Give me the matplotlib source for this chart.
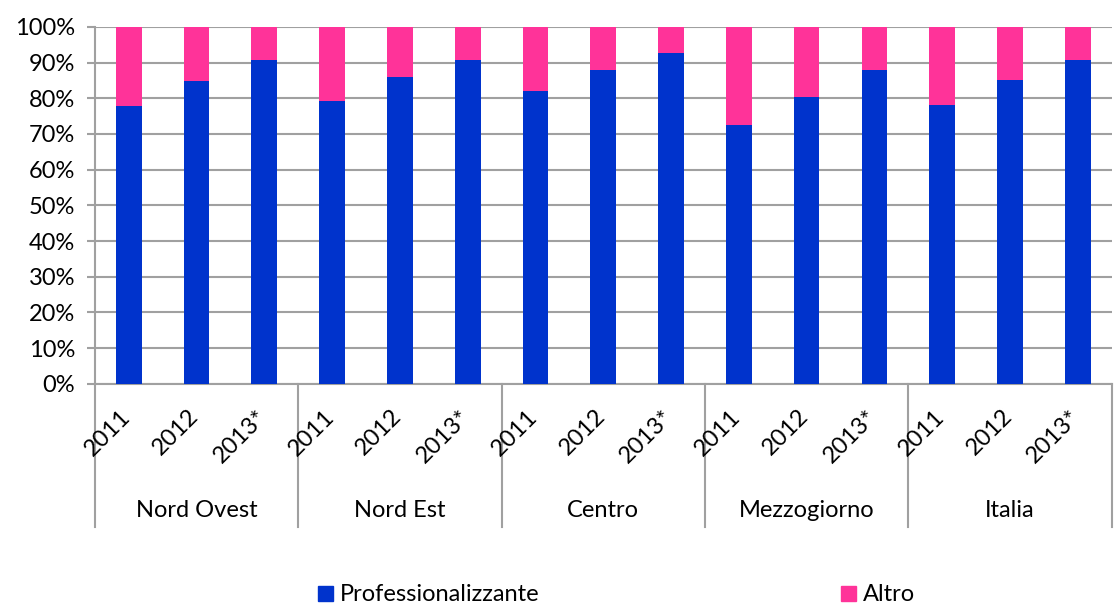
import numpy as np
import matplotlib.pyplot as plt
from matplotlib.patches import Patch

plt.rcParams['font.family'] = ['Lato', 'DejaVu Sans']

# dati (quota % per area e anno)
aree = ["Nord Ovest", "Nord Est", "Centro", "Mezzogiorno", "Italia"]
anni = ["2011", "2012", "2013*"]
professionalizzante = [77.7, 84.9, 90.7,   # Nord Ovest
                       79.1, 86.0, 90.7,   # Nord Est
                       82.1, 87.9, 92.6,   # Centro
                       72.6, 80.4, 87.9,   # Mezzogiorno
                       78.2, 85.1, 90.7]   # Italia
altro = [100 - v for v in professionalizzante]

blu = '#0033CC'
rosa = '#FF3399'
grigio = '#A0A0A0'
fs = 17

fig = plt.figure(figsize=(11.15, 6.12), dpi=100)
ax = fig.add_axes([0.085, 0.373, 0.912, 0.583])

n = len(professionalizzante)
x = np.arange(n)
ax.bar(x, professionalizzante, width=0.38, color=blu, zorder=3)
ax.bar(x, altro, bottom=professionalizzante, width=0.38, color=rosa, zorder=3)

ax.set_xlim(-0.5, n - 0.5)
ax.set_ylim(0, 100)
ax.set_yticks(np.arange(0, 101, 10))
ax.set_yticklabels([f"{v}%" for v in range(0, 101, 10)], fontsize=fs)
ax.yaxis.grid(True, color=grigio, lw=1.5, zorder=0)
ax.set_xticks([])
ax.tick_params(axis='y', length=6, color=grigio, width=1.5, pad=8)
for s in ['top', 'right']:
    ax.spines[s].set_visible(False)
ax.spines['left'].set_color(grigio)
ax.spines['bottom'].set_color(grigio)
ax.spines['left'].set_linewidth(1.5)
ax.spines['bottom'].set_linewidth(1.5)

# etichette anni (ruotate) e aree
h_px = 357.0
trans = ax.get_xaxis_transform()
for i in range(n):
    ax.text(i + 6 / 67.8, -22 / h_px, anni[i % 3], rotation=45, ha='right', va='top',
            fontsize=fs, transform=trans)
for g, nome in enumerate(aree):
    ax.text(3 * g + 1, -127 / h_px, nome, ha='center', va='center', fontsize=fs,
            transform=trans)
for g in range(len(aree) + 1):
    ax.plot([3 * g - 0.5, 3 * g - 0.5], [0, -143 / h_px], color=grigio, lw=1.5,
            transform=trans, clip_on=False)

handles = [Patch(color=blu, label="Professionalizzante"), Patch(color=rosa, label="Altro")]
fig.legend(handles=handles, loc='center', bbox_to_anchor=(0.553, 0.028), ncol=2,
           frameon=False, fontsize=fs, columnspacing=12.8, handlelength=0.6,
           handleheight=0.6, handletextpad=0.3)

fig.savefig("out.png", dpi=100)
